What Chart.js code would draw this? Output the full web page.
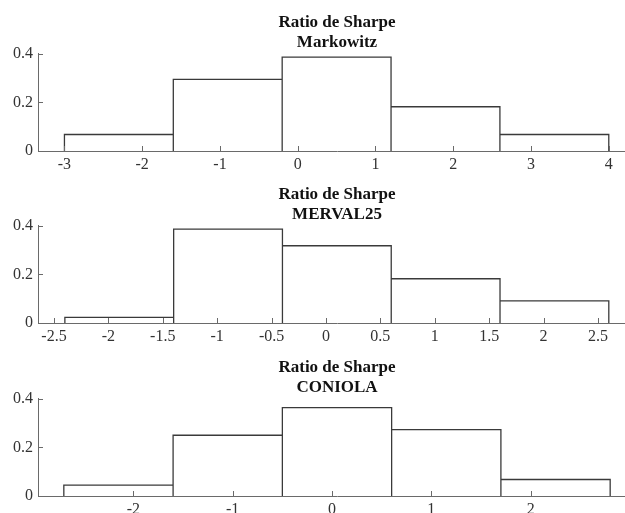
<!DOCTYPE html>
<html>
<head>
<meta charset="utf-8">
<script src="https://cdn.jsdelivr.net/npm/chart.js@4"></script>
<style>
    body { margin: 0; background: #fff; overflow: hidden; width: 625px; height: 513px; position: relative; }
    canvas { position: absolute; left: 0; }
</style>
</head>
<body>
<canvas id="c1" width="636" height="172" style="top:0px"></canvas>
<canvas id="c2" width="636" height="172" style="top:172px"></canvas>
<canvas id="c3" width="636" height="172" style="top:345px"></canvas>
<script>
// Histogramas del ratio de Sharpe (frecuencia relativa)
var titleLine = 'Ratio de Sharpe';
var names = ['Markowitz', 'MERVAL25', 'CONIOLA'];

var edgesMarkowitz = [-3, -1.6, -0.2, 1.2, 2.6, 4.0];
var valuesMarkowitz = [0.068, 0.295, 0.386, 0.182, 0.068];
var xTicksMarkowitz = [-3, -2, -1, 0, 1, 2, 3, 4];
var xLabelsMarkowitz = ['-3', '-2', '-1', '0', '1', '2', '3', '4'];

var edgesMerval = [-2.4, -1.4, -0.4, 0.6, 1.6, 2.6];
var valuesMerval = [0.023, 0.386, 0.318, 0.182, 0.091];
var xTicksMerval = [-2.5, -2, -1.5, -1, -0.5, 0, 0.5, 1, 1.5, 2, 2.5];
var xLabelsMerval = ['-2.5', '-2', '-1.5', '-1', '-0.5', '0', '0.5', '1', '1.5', '2', '2.5'];

var edgesConiola = [-2.7, -1.6, -0.5, 0.6, 1.7, 2.8];
var valuesConiola = [0.045, 0.25, 0.364, 0.273, 0.068];
var xTicksConiola = [-2, -1, 0, 1, 2];
var xLabelsConiola = ['-2', '-1', '0', '1', '2'];

var yTicks = [0, 0.2, 0.4];
var yLabels = ['0', '0.2', '0.4'];

var axisColor = '#6a6a6a';
var barColor = '#3a3a3a';
var textColor = '#333';
var fontFamily = "'Liberation Serif', 'Times New Roman', serif";

// contorno de las barras: sube, cruza y baja en cada intervalo
function outline(edges, values) {
    var pts = [{ x: edges[0], y: 0 }];
    for (var i = 0; i < values.length; i++) {
        pts.push({ x: edges[i], y: values[i] });
        pts.push({ x: edges[i + 1], y: values[i] });
        pts.push({ x: edges[i + 1], y: 0 });
    }
    return pts;
}

// marcas de los ejes hacia adentro, como en MATLAB
var innerTicks = {
    id: 'innerTicks',
    afterDraw: function (chart) {
        var ctx = chart.ctx;
        var xs = chart.scales.x, ys = chart.scales.y, a = chart.chartArea;
        ctx.save();
        ctx.strokeStyle = axisColor;
        ctx.lineWidth = 1;
        xs.ticks.forEach(function (t) {
            var px = Math.round(xs.getPixelForValue(t.value)) + 0.5;
            ctx.beginPath();
            ctx.moveTo(px, a.bottom);
            ctx.lineTo(px, a.bottom - 5);
            ctx.stroke();
        });
        ys.ticks.forEach(function (t) {
            var py = Math.round(ys.getPixelForValue(t.value)) + 0.5;
            ctx.beginPath();
            ctx.moveTo(a.left, py);
            ctx.lineTo(a.left + 5, py);
            ctx.stroke();
        });
        ctx.restore();
    }
};

function renderHistogram(canvasId, name, edges, values, xMin, xMax, xTicks, xLabels) {
    var ctx = document.getElementById(canvasId).getContext('2d');
    return new Chart(ctx, {
        type: 'scatter',
        data: {
            datasets: [{
                data: outline(edges, values),
                showLine: true,
                borderColor: barColor,
                borderWidth: 1.3,
                pointRadius: 0,
                tension: 0,
                fill: false,
                clip: 4
            }]
        },
        options: {
            responsive: false,
            animation: false,
            layout: { padding: 0 },
            plugins: {
                legend: { display: false },
                tooltip: { enabled: false },
                title: {
                    display: true,
                    text: [titleLine, name],
                    fullSize: false,
                    color: '#111',
                    font: { family: fontFamily, size: 17, weight: 'bold', lineHeight: 1.2 },
                    padding: { top: 12, bottom: 1 }
                }
            },
            scales: {
                x: {
                    type: 'linear',
                    min: xMin,
                    max: xMax,
                    afterBuildTicks: function (scale) {
                        scale.ticks = xTicks.map(function (v) { return { value: v }; });
                    },
                    afterFit: function (scale) { scale.height = 21; },
                    ticks: {
                        autoSkip: false,
                        maxRotation: 0,
                        padding: 4,
                        color: textColor,
                        font: { family: fontFamily, size: 16 },
                        callback: function (v, i) { return xLabels[i]; }
                    },
                    grid: { drawOnChartArea: false, drawTicks: false },
                    border: { color: axisColor, width: 1 }
                },
                y: {
                    min: 0,
                    max: 0.4,
                    afterBuildTicks: function (scale) {
                        scale.ticks = yTicks.map(function (v) { return { value: v }; });
                    },
                    afterFit: function (scale) { scale.width = 38; },
                    ticks: {
                        padding: 5,
                        color: textColor,
                        font: { family: fontFamily, size: 16 },
                        callback: function (v, i) { return yLabels[i]; }
                    },
                    grid: { drawOnChartArea: false, drawTicks: false },
                    border: { color: axisColor, width: 1 }
                }
            }
        },
        plugins: [innerTicks]
    });
}

renderHistogram('c1', names[0], edgesMarkowitz, valuesMarkowitz, -3.34, 4.35, xTicksMarkowitz, xLabelsMarkowitz);
renderHistogram('c2', names[1], edgesMerval, valuesMerval, -2.647, 2.85, xTicksMerval, xLabelsMerval);
renderHistogram('c3', names[2], edgesConiola, valuesConiola, -2.96, 3.06, xTicksConiola, xLabelsConiola);
</script>
</body>
</html>
